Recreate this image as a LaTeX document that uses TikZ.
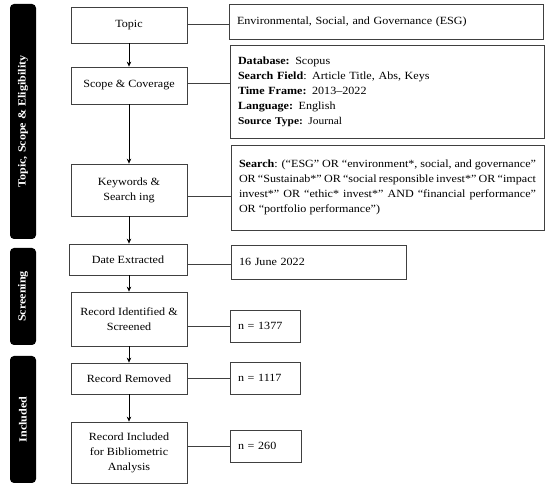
\documentclass[tikz,border=0pt]{standalone}
\usepackage{fontspec}
\setmainfont{Liberation Serif}[FakeStretch=1.1]
\usetikzlibrary{arrows.meta}
\begin{document}
\begin{tikzpicture}[x=1pt,y=-1pt,
  every node/.style={font=\fontsize{11}{15}\selectfont},
  lbox/.style={draw=black!75, line width=0.75pt, minimum width=116pt, align=center, inner sep=2pt},
  rbox/.style={draw=black!75, line width=0.75pt, inner xsep=8pt, inner ysep=2pt, align=left},
  bar/.style={fill=black, rounded corners=4pt, minimum width=26pt, inner sep=0pt},
  bartext/.style={text=white, rotate=90, font=\fontsize{11}{13}\selectfont\bfseries},
  conn/.style={draw=black!75, line width=0.75pt},
  arr/.style={draw=black, line width=0.75pt, -{Stealth[length=5pt,width=4.5pt]}}
]
\useasboundingbox (0,0) rectangle (550,489);

% side bars
\node[bar, minimum height=235pt] (b1) at (23,121.5) {};
\node[bartext] (t1) at (b1.center) {Topic, Scope \& Eligibility};
\node[bar, minimum height=97pt] (b2) at (23,296.5) {};
\node[bartext] (t2) at (b2.center) {Screening};
\node[bar, minimum height=127pt] (b3) at (23,419.5) {};
\node[bartext] (t3) at (b3.center) {Included};

% left boxes
\node[lbox, minimum height=36pt] (topic) at (129,25) {Topic};
\node[lbox, minimum height=37pt] (scope) at (129,85.5) {Scope \& Coverage};
\node[lbox, minimum height=52pt] (kw) at (129,190) {Keywords \&\\Search ing};
\node[lbox, minimum height=31pt, minimum width=118pt] (date) at (128,259.5) {Date Extracted};
\node[lbox, minimum height=54pt] (ri) at (129,319) {Record Identified \&\\Screened};
\node[lbox, minimum height=31pt] (rr) at (129,378.5) {Record Removed};
\node[lbox, minimum height=61pt] (rinc) at (129,452.5) {Record Included\\for Bibliometric\\Analysis};

% right boxes
\node[rbox, text width=298pt, minimum height=35pt] (esg) at (386,21.5) {Environmental, Social, and Governance (ESG)};
\node[rbox, text width=298pt, minimum height=93pt] (db) at (387,91.5) {\textbf{Database:} Scopus\\
\textbf{Search Field}: Article Title, Abs, Keys\\
\textbf{Time Frame:} 2013–2022\\
\textbf{Language:} English\\
\fontsize{10.4}{15}\selectfont\textbf{Source Type:} Journal};
\node[rbox, text width=297pt, minimum height=85pt, align=justify] (srch) at (387.5,187.5) {\textbf{Search}: (“ESG” OR “environment*, social, and governance” OR “Sustainab*” OR “social responsible invest*” OR “impact invest*” OR “ethic* invest*” AND “financial performance” OR “portfolio performance”)};
\node[rbox, text width=159pt, minimum height=34pt] (dt) at (318.5,262) {16 June 2022};
\node[rbox, text width=54pt, minimum height=32pt] (n1) at (265,326) {n = 1377};
\node[rbox, text width=54pt, minimum height=32pt] (n2) at (265,378) {n = 1117};
\node[rbox, text width=55pt, minimum height=32pt] (n3) at (265.5,446) {n = 260};

% arrows
\draw[arr] (topic) -- (scope);
\draw[arr] (scope) -- (kw);
\draw[arr] (kw) -- (kw |- date.north);
\draw[arr] (date.south -| ri) -- (ri);
\draw[arr] (ri) -- (rr);
\draw[arr] (rr) -- (rinc);

% connectors
\draw[conn] ([yshift=1pt]topic.east) -- ([yshift=1pt]topic.east -| esg.west);
\draw[conn] ([yshift=2.5pt]scope.east) -- ([yshift=2.5pt]scope.east -| db.west);
\draw[conn] ([yshift=-6pt]kw.east) -- ([yshift=-6pt]kw.east -| srch.west);
\draw[conn] ([yshift=-4.5pt]date.east) -- ([yshift=-4.5pt]date.east -| dt.west);
\draw[conn] (n1.west -| ri.east) -- (n1.west);
\draw[conn] (rr.east) -- (rr.east -| n2.west);
\draw[conn] (n3.west -| rinc.east) -- (n3.west);
\end{tikzpicture}
\end{document}
